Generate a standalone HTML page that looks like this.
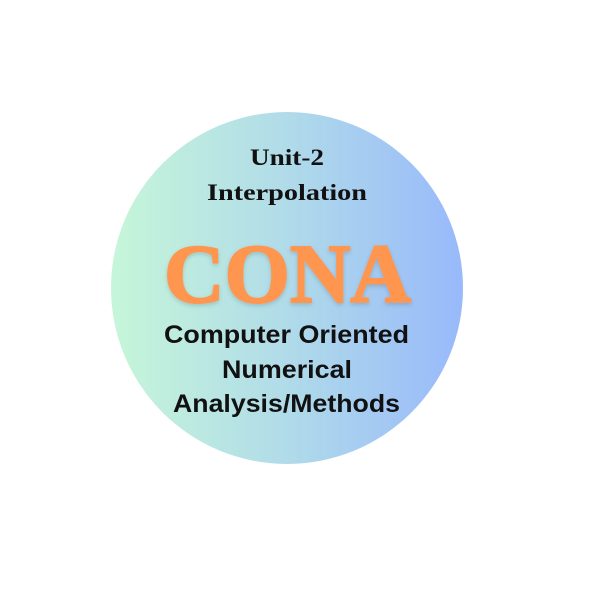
<!DOCTYPE html>
<html><head><meta charset="utf-8"><style>
html,body{margin:0;padding:0;background:#fff;width:591px;height:591px;overflow:hidden}
</style></head><body>
<svg width="591" height="591" viewBox="0 0 591 591">
<defs>
<linearGradient id="g" x1="0" y1="0" x2="1" y2="0">
<stop offset="0" stop-color="#c6f6d9"/>
<stop offset="0.5" stop-color="#b0dbe9"/>
<stop offset="1" stop-color="#98b9fb"/>
</linearGradient>
<filter id="sh" x="-10%" y="-10%" width="120%" height="130%"><feDropShadow dx="0" dy="2" stdDeviation="2" flood-color="#000" flood-opacity="0.15"/></filter>
</defs>
<circle cx="287" cy="288" r="176" fill="url(#g)"/>
<g font-family="'Liberation Serif', serif" font-weight="bold" fill="#111" text-anchor="middle">
<text x="287" y="165" font-size="23" textLength="74" lengthAdjust="spacingAndGlyphs">Unit-2</text>
<text x="287" y="200" font-size="23" textLength="160" lengthAdjust="spacingAndGlyphs">Interpolation</text>
</g>
<text x="287.5" y="302" text-anchor="middle" font-family="'Liberation Serif', serif" font-weight="bold" font-size="84" fill="#ff9650" stroke="#ff9650" stroke-width="2" textLength="247" lengthAdjust="spacingAndGlyphs" filter="url(#sh)">CONA</text>
<g font-family="'Liberation Sans', sans-serif" font-weight="bold" fill="#111" text-anchor="middle" font-size="25">
<text x="286.5" y="343" textLength="245" lengthAdjust="spacingAndGlyphs">Computer Oriented</text>
<text x="287" y="378" textLength="130" lengthAdjust="spacingAndGlyphs">Numerical</text>
<text x="286.5" y="412" textLength="227" lengthAdjust="spacingAndGlyphs">Analysis/Methods</text>
</g>
</svg>
</body></html>
